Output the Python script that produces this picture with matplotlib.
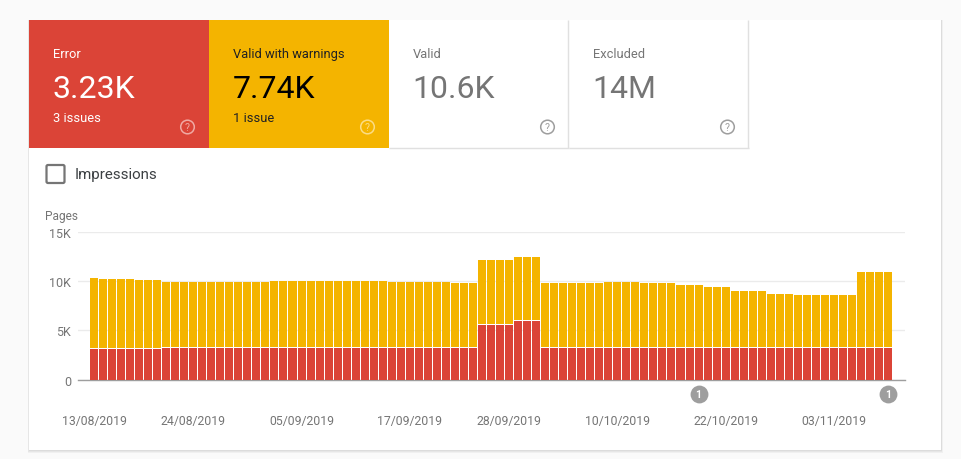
import matplotlib
matplotlib.use("Agg")
import matplotlib.pyplot as plt
from matplotlib.patches import Rectangle, FancyBboxPatch, Circle
from matplotlib.ticker import FuncFormatter

plt.rcParams['font.family'] = ['Roboto', 'DejaVu Sans']

W, H = 961, 460

# --- data (thousands of pages, one value per day from 13/08/2019) ---
error = [3.05] * 8 + [3.18] * 35 + [5.55] * 4 + [5.95] * 3 + [3.18] * 39
warnings = ([7.25] + [7.15] * 4 + [7.0] * 3 + [6.66] * 12 + [6.76] * 13 + [6.66] * 7
            + [6.56] * 3 + [6.55] * 4 + [6.45] * 3 + [6.56] * 7 + [6.66] * 4 + [6.56] * 4
            + [6.36] * 3 + [6.16] * 3 + [5.76] * 4 + [5.46] * 3 + [5.36] * 7 + [7.72] * 4)
tick_positions = [0, 11, 23, 35, 46, 58, 70, 82]
tick_labels = ['13/08/2019', '24/08/2019', '05/09/2019', '17/09/2019',
               '28/09/2019', '10/10/2019', '22/10/2019', '03/11/2019']
y_ticks = [0, 5, 10, 15]
annotation_days = [67, 88]
tile_titles = ['Error', 'Valid with warnings', 'Valid', 'Excluded']
tile_values = ['3.23K', '7.74K', '10.6K', '14M']
tile_subs = ['3 issues', '1 issue', '', '']

RED, YEL = '#db4437', '#f4b400'
GREY = '#757575'

fig = plt.figure(figsize=(W / 100, H / 100), dpi=100, facecolor='#fafafa')

# page overlay in pixel coordinates
bg = fig.add_axes([0, 0, 1, 1])
bg.set_xlim(0, W)
bg.set_ylim(H, 0)
bg.axis('off')

# card with soft shadow
for off, col in [(3, '#f0f0f0'), (2, '#e6e6e6'), (1, '#dcdcdc')]:
    bg.add_patch(Rectangle((29 - off / 2, 21), 912 + off, 430 + off, fc=col, ec='none'))
bg.add_patch(Rectangle((29, 21), 912, 430, fc='white', ec='none'))

tile_x = [29, 209, 389, 569]
tile_face = [RED, YEL, 'white', 'white']
title_col = ['white', '#202124', GREY, GREY]
value_col = ['white', 'black', GREY, GREY]
icon_col = ['#f0a9a3', '#fbdc85', '#9e9e9e', '#9e9e9e']
for x, fc, tc, vc, ic, t, v, s in zip(tile_x, tile_face, title_col, value_col, icon_col,
                                     tile_titles, tile_values, tile_subs):
    if fc != 'white':
        bg.add_patch(Rectangle((x, 21), 180, 128, fc=fc, ec='none'))
    else:
        bg.plot([x, x + 180], [148.5, 148.5], color='#e0e0e0', lw=1, solid_capstyle='butt')
        bg.plot([x + 179, x + 179], [21, 149], color='#e0e0e0', lw=1, solid_capstyle='butt')
    bg.text(x + 24, 54.5, t, color=tc, fontsize=9.3, va='center', ha='left')
    bg.text(x + 23.5, 89.5, v, color=vc, fontsize=23, va='center', ha='left')
    if s:
        bg.text(x + 24, 118, s, color=tc, fontsize=9.3, va='center', ha='left')
    bg.add_patch(Circle((x + 158.5, 128), 6.8, fc='none', ec=ic, lw=1.1))
    bg.text(x + 158.5, 128.3, '?', color=ic, fontsize=7.5, va='center', ha='center')

# checkbox and legend label
bg.add_patch(FancyBboxPatch((46.5, 166), 18, 18, boxstyle='round,pad=0,rounding_size=1.5',
                            fc='white', ec=GREY, lw=1.6))
bg.text(75, 175.5, 'Impressions', color='#3c4043', fontsize=10.9, va='center', ha='left')
bg.text(45, 216.5, 'Pages', color=GREY, fontsize=8.6, va='center', ha='left')

# chart axes
left, right, top, bottom = 78, 905, 232.5, 380.5
pitch = 9.023
ax = fig.add_axes([left / W, 1 - bottom / H, (right - left) / W, (bottom - top) / H])
ax.patch.set_alpha(0)
ax.set_xlim((left - 94) / pitch, (right - 94) / pitch)
ax.set_ylim(0, 15)

days = list(range(len(error)))
ax.bar(days, error, width=0.89, color=RED, linewidth=0, zorder=3)
ax.bar(days, [w - 0.1 for w in warnings], bottom=[e + 0.1 for e in error],
       width=0.89, color=YEL, linewidth=0, zorder=3)

for s in ['top', 'left', 'right']:
    ax.spines[s].set_visible(False)
ax.spines['bottom'].set_color('#9e9e9e')
ax.spines['bottom'].set_linewidth(1)
ax.spines['bottom'].set_zorder(2)

ax.set_yticks(y_ticks)
ax.yaxis.set_major_formatter(FuncFormatter(lambda v, _: '0' if v == 0 else f'{int(v)}K'))
ax.grid(axis='y', color='#ebebeb', lw=1, zorder=1)
ax.tick_params(axis='y', length=0, pad=5, labelsize=9, labelcolor=GREY)
ax.set_xticks(tick_positions, tick_labels)
ax.tick_params(axis='x', length=0, pad=24.5, labelsize=8.8, labelcolor=GREY)

trans = ax.get_xaxis_transform()
for d in annotation_days:
    ax.scatter([d], [-0.095], s=165, color='#9e9e9e', transform=trans, clip_on=False,
               zorder=5, linewidths=0)
    ax.text(d, -0.095, '1', color='white', fontsize=7.5, fontweight='bold',
            ha='center', va='center', transform=trans, zorder=6, clip_on=False)

fig.savefig('out.png', dpi=100, facecolor=fig.get_facecolor())
